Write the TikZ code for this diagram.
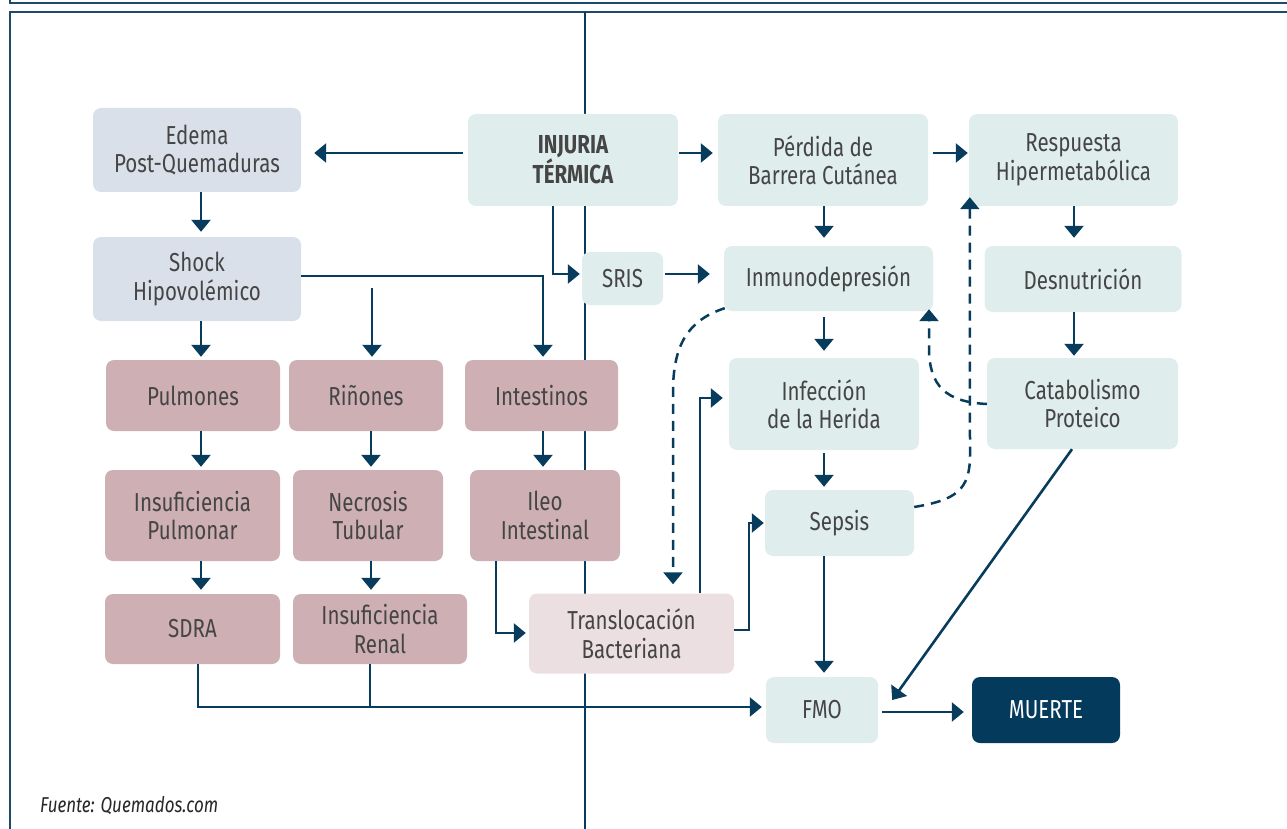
\documentclass[tikz,border=0pt]{standalone}
\usepackage{fontspec}
\setmainfont{Fira Sans}[FakeStretch=0.79]
\usetikzlibrary{arrows.meta,calc}
\definecolor{cnavy}{HTML}{083C5C}
\definecolor{cteal}{HTML}{E0EDED}
\definecolor{cgray}{HTML}{DAE0EA}
\definecolor{cmauve}{HTML}{CDAFB4}
\definecolor{cpink}{HTML}{ECDFE1}
\definecolor{cdark}{HTML}{043A5C}
\definecolor{ctext}{HTML}{454545}
\definecolor{cframe}{HTML}{1B4A6B}
\tikzset{
  box/.style={rounded corners=8pt, draw=none, inner sep=0pt, align=center,
    text=ctext, font=\fontsize{26}{28.5}\selectfont},
  tealbox/.style={box, fill=cteal},
  graybox/.style={box, fill=cgray},
  mauvebox/.style={box, fill=cmauve},
  pinkbox/.style={box, fill=cpink},
  darkbox/.style={box, fill=cdark, text=white},
  line/.style={draw=cnavy, line width=2.6pt},
  arr/.style={line, -{Triangle[width=19pt,length=12pt]}},
  darr/.style={draw=cnavy, line width=2.5pt, dash pattern=on 10pt off 7pt, -{Triangle[width=19pt,length=12pt]}},
  frameline/.style={draw=cframe, line width=2pt},
  pageline/.style={draw=cnavy, line width=2.4pt}
}
\begin{document}
\begin{tikzpicture}[x=1pt,y=-1pt]
\useasboundingbox (0,0) rectangle (1287,829);
% frame and page line
\draw[frameline] (10,0) -- (10,3) -- (1290,3);
\draw[frameline] (1290,12) -- (10,12) -- (10,832);
\draw[pageline] (585,12) -- (585,832);

% nodes
\node[graybox, minimum width=208pt, minimum height=84pt] (edema) at (197,150) {Edema\\Post-Quemaduras};
\node[graybox, minimum width=208pt, minimum height=84pt] (shock) at (197,279) {Shock\\Hipovolémico};
\node[tealbox, minimum width=210pt, minimum height=92pt, font=\fontsize{26}{28.5}\selectfont\bfseries] (injuria) at (573,160) {INJURIA\\TÉRMICA};
\node[tealbox, minimum width=210pt, minimum height=92pt] (perdida) at (823,160) {Pérdida de\\Barrera Cutánea};
\node[tealbox, minimum width=209pt, minimum height=92pt] (respuesta) at (1073.5,160) {Respuesta\\Hipermetabólica};
\node[tealbox, minimum width=81pt, minimum height=53pt] (sris) at (622.5,278.5) {SRIS};
\node[tealbox, minimum width=209pt, minimum height=65pt] (inmuno) at (828.5,278.5) {Inmunodepresión};
\node[tealbox, minimum width=197pt, minimum height=66pt] (desnut) at (1083,279) {Desnutrición};
\node[tealbox, minimum width=190pt, minimum height=92pt] (infeccion) at (824,404) {Infección\\de la Herida};
\node[tealbox, minimum width=191pt, minimum height=91pt] (catabol) at (1082.5,403.5) {Catabolismo\\Proteico};
\node[tealbox, minimum width=149pt, minimum height=66pt] (sepsis) at (839.5,523) {Sepsis};
\node[tealbox, minimum width=112pt, minimum height=66pt] (fmo) at (822,710) {FMO};
\node[darkbox, minimum width=148pt, minimum height=66pt] (muerte) at (1046,710) {MUERTE};
\node[mauvebox, minimum width=174pt, minimum height=71pt] (pulmones) at (193,395.5) {Pulmones};
\node[mauvebox, minimum width=154pt, minimum height=71pt] (rinones) at (366,395.5) {Riñones};
\node[mauvebox, minimum width=153pt, minimum height=71pt] (intestinos) at (541.5,395.5) {Intestinos};
\node[mauvebox, minimum width=175pt, minimum height=91pt] (inspulm) at (192.5,515.5) {Insuficiencia\\Pulmonar};
\node[mauvebox, minimum width=150pt, minimum height=91pt] (necrosis) at (368,515.5) {Necrosis\\Tubular};
\node[mauvebox, minimum width=150pt, minimum height=91pt] (ileo) at (545,515.5) {Ileo\\Intestinal};
\node[mauvebox, minimum width=175pt, minimum height=70pt] (sdra) at (192.5,629) {SDRA};
\node[mauvebox, minimum width=174pt, minimum height=70pt] (insrenal) at (380,629) {Insuficiencia\\Renal};
\node[pinkbox, minimum width=205pt, minimum height=80pt] (transloc) at (631.5,633.5) {Translocación\\Bacteriana};
\node[anchor=base west, inner sep=0pt, text=black!85, font=\fontsize{21.5}{24}\selectfont\itshape] (fuente) at (40,812) {Fuente: Quemados.com};

% helper coordinates (free ends)
\coordinate (rfree) at (372,288);
\coordinate (join) at (370,707);

% connectors
\draw[arr, shorten <=5pt, shorten >=13pt] (injuria.west |- 0,153) -- (edema.east |- 0,153);
\draw[arr, shorten >=5pt] (edema.south -| 201,0) -- (shock.north -| 201,0);
\draw[arr, shorten >=3pt] (shock.south -| 201,0) -- (pulmones.north -| 201,0);
\draw[arr, shorten >=3pt] (shock.east |- 0,276) -| (intestinos.north -| 543,0);
\draw[arr, shorten >=3pt] (rfree) -- (rinones.north -| rfree);
\draw[arr, shorten >=3pt] (pulmones.south -| 201,0) -- (inspulm.north -| 201,0);
\draw[arr, shorten >=4pt] (inspulm.south -| 201,0) -- (sdra.north -| 201,0);
\draw[arr, shorten >=3pt] (rinones.south -| 371,0) -- (necrosis.north -| 371,0);
\draw[arr, shorten >=4pt] (necrosis.south -| 371,0) -- (insrenal.north -| 371,0);
\draw[arr, shorten >=3pt] (intestinos.south -| 543,0) -- (ileo.north -| 543,0);
\draw[arr, shorten >=3pt] (ileo.south -| 496,0) |- (transloc.west |- 0,633);
\draw[arr, shorten >=4pt] (sdra.south -| 198,0) |- (fmo.west |- 0,707);
\draw[line] (insrenal.south -| join) -- (join);
\draw[arr, shorten >=2pt] (injuria.south -| 553,0) |- (sris.west |- 0,274);
\draw[arr, shorten <=2pt, shorten >=14pt] (sris.east |- 0,274) -- (inmuno.west |- 0,274);
\draw[arr, shorten <=1pt, shorten >=5pt] (injuria.east |- 0,153) -- (perdida.west |- 0,153);
\draw[arr, shorten <=5pt, shorten >=1pt] (perdida.east |- 0,153) -- (respuesta.west |- 0,153);
\draw[arr, shorten >=8pt] (perdida.south -| 824,0) -- (inmuno.north -| 824,0);
\draw[arr, shorten >=8pt] (respuesta.south -| 1074,0) -- (desnut.north -| 1074,0);
\draw[arr, shorten >=2pt] (desnut.south -| 1074,0) -- (catabol.north -| 1074,0);
\draw[arr, shorten <=6pt, shorten >=7pt] (inmuno.south -| 824,0) -- (infeccion.north -| 824,0);
\draw[arr, shorten <=3pt, shorten >=3pt] (infeccion.south -| 824,0) -- (sepsis.north -| 824,0);
\draw[arr, shorten >=4pt] (sepsis.south -| 824,0) -- (fmo.north -| 824,0);
\draw[arr, shorten >=6pt] (transloc.north -| 700,0) |- (infeccion.west |- 0,398);
\draw[arr, shorten >=1pt] (transloc.east |- 0,630) -| (sepsis.west -| 749,0) -- (sepsis.west);
\draw[arr] (catabol.south -| 1072,0) -- ($(fmo.east)+(14,-10)$);
\draw[arr, shorten <=4pt, shorten >=8pt] (fmo.east |- 0,712) -- (muerte.west |- 0,712);

% dashed feedback connectors
\draw[darr, shorten >=9pt] ($(inmuno.south west)+(1,-3)$) .. controls (688,320) and (673,345) .. (673,392) -- (transloc.north -| 673,0);
\draw[darr, shorten >=-2pt] (catabol.west |- 0,404) .. controls (946,402) and (929,386) .. (929,348) -- (inmuno.south -| 929,0);
\draw[darr] (sepsis.east |- 0,507) .. controls (956,500) and (970,490) .. (970,455) -- ($(respuesta.south west)+(1,-9)$);
\end{tikzpicture}
\end{document}
